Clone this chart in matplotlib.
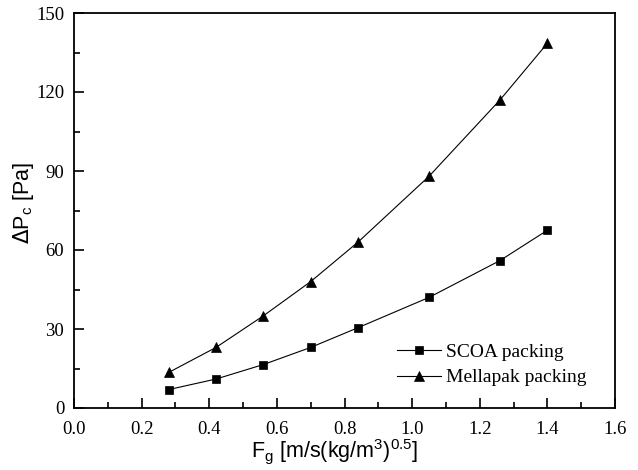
import matplotlib
matplotlib.use("Agg")
import matplotlib.pyplot as plt
from matplotlib.ticker import MultipleLocator

fg = [0.28, 0.42, 0.56, 0.70, 0.84, 1.05, 1.26, 1.40]
scoa = [7.0, 11.0, 16.5, 23.0, 30.5, 42.0, 56.0, 67.5]
mellapak = [13.5, 23.0, 35.0, 48.0, 63.0, 88.0, 117.0, 138.5]
xticks = [0.0, 0.2, 0.4, 0.6, 0.8, 1.0, 1.2, 1.4, 1.6]
yticks = [0, 30, 60, 90, 120, 150]

W, H = 638, 470
L, R, T, B = 74, 615, 13, 408
fig = plt.figure(figsize=(W/100, H/100), dpi=100)
ax = fig.add_axes([L/W, 1-B/H, (R-L)/W, (B-T)/H])

ax.plot(fg, scoa, color='black', lw=0.8, marker='s', ms=5.3, mew=0.5, label='SCOA packing')
ax.plot(fg, mellapak, color='black', lw=0.8, marker='^', ms=7.5, mew=0.5, label='Mellapak packing')

ax.set_xticks(xticks)
ax.set_xticklabels([f"{v:.1f}" for v in xticks], family='Liberation Serif', fontsize=13.5)
ax.set_yticks(yticks)
ax.set_yticklabels([f"{v}" for v in yticks], family='Liberation Serif', fontsize=13.5)
ax.xaxis.set_minor_locator(MultipleLocator(0.1))
ax.yaxis.set_minor_locator(MultipleLocator(15))
ax.set_xlim(0, 1.6)
ax.set_ylim(0, 150)
ax.tick_params(which='both', direction='in', top=False, right=False, width=1.2)
ax.tick_params(which='major', length=7)
ax.tick_params(which='minor', length=4)
ax.tick_params(axis='x', which='major', pad=9)
ax.tick_params(axis='y', which='major', pad=7)
for s in ax.spines.values():
    s.set_linewidth(1.3)

xl = ax.set_xlabel(r'F$_\mathregular{g}$ [m/s(kg/m$^\mathregular{3}$)$^\mathregular{0.5}$]',
                   family='Liberation Sans', fontsize=15.5)
xl.set_va('baseline')
ax.xaxis.set_label_coords((335-L)/(R-L), (B-457)/(B-T))
yl = ax.set_ylabel(r'$\Delta$P$_\mathregular{c}$ [Pa]', family='Liberation Sans', fontsize=15.5)
yl.set_va('center')
ax.yaxis.set_label_coords((24-L)/(R-L), (B-203)/(B-T))

leg = ax.legend(loc='upper left', bbox_to_anchor=(397/W, 1-343/H), bbox_transform=fig.transFigure,
                frameon=False, borderpad=0, borderaxespad=0,
                prop={'family': 'Liberation Serif', 'size': 14}, handlelength=2.27,
                handletextpad=0.26, labelspacing=0.42)

fig.savefig('out.png', dpi=100)
